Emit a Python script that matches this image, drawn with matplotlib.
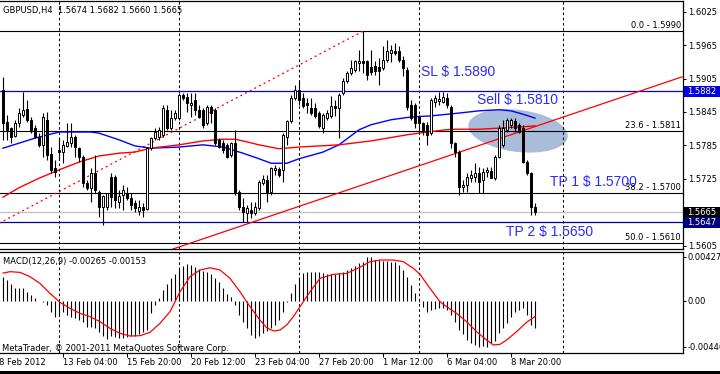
import matplotlib
matplotlib.use("Agg")
import matplotlib.pyplot as plt
from matplotlib.patches import Rectangle, Ellipse
from matplotlib.transforms import Affine2D, blended_transform_factory as blend

# GBPUSD H4 candles, bar 0 = first bar visible on the left
opens = [
    1.5884, 1.5827, 1.5816, 1.5802, 1.5825, 1.5840, 1.5850, 1.5831, 1.5816, 1.5800,
    1.5786, 1.5831, 1.5770, 1.5744, 1.5777, 1.5773, 1.5784, 1.5789, 1.5800, 1.5780,
    1.5764, 1.5717, 1.5709, 1.5735, 1.5701, 1.5674, 1.5674, 1.5728, 1.5728, 1.5683,
    1.5696, 1.5700, 1.5690, 1.5682, 1.5667, 1.5674, 1.5671, 1.5780, 1.5798, 1.5800,
    1.5804, 1.5849, 1.5816, 1.5834, 1.5834, 1.5875, 1.5872, 1.5858, 1.5866, 1.5849,
    1.5849, 1.5825, 1.5854, 1.5849, 1.5795, 1.5789, 1.5786, 1.5768, 1.5789, 1.5701,
    1.5674, 1.5664, 1.5669, 1.5664, 1.5673, 1.5717, 1.5723, 1.5701, 1.5741, 1.5743,
    1.5741, 1.5800, 1.5829, 1.5870, 1.5884, 1.5870, 1.5861, 1.5852, 1.5852, 1.5843,
    1.5816, 1.5834, 1.5838, 1.5856, 1.5852, 1.5879, 1.5901, 1.5915, 1.5920, 1.5933,
    1.5937, 1.5937, 1.5926, 1.5928, 1.5926, 1.5924, 1.5938, 1.5951, 1.5954, 1.5954,
    1.5938, 1.5920, 1.5858, 1.5858, 1.5836, 1.5825, 1.5822, 1.5807, 1.5863, 1.5865,
    1.5863, 1.5870, 1.5854, 1.5789, 1.5773, 1.5710, 1.5714, 1.5726, 1.5728, 1.5735,
    1.5723, 1.5737, 1.5739, 1.5726, 1.5764, 1.5786, 1.5813, 1.5822, 1.5829, 1.5822,
    1.5816, 1.5755, 1.5735, 1.5674,
]
highs = [
    1.5908, 1.5840, 1.5818, 1.5831, 1.5852, 1.5881, 1.5866, 1.5836, 1.5822, 1.5807,
    1.5843, 1.5845, 1.5782, 1.5759, 1.5798, 1.5795, 1.5825, 1.5825, 1.5804, 1.5782,
    1.5768, 1.5723, 1.5744, 1.5768, 1.5705, 1.5696, 1.5700, 1.5735, 1.5732, 1.5705,
    1.5714, 1.5710, 1.5700, 1.5687, 1.5687, 1.5682, 1.5782, 1.5800, 1.5816, 1.5818,
    1.5858, 1.5858, 1.5849, 1.5849, 1.5879, 1.5879, 1.5879, 1.5879, 1.5879, 1.5858,
    1.5852, 1.5858, 1.5858, 1.5852, 1.5798, 1.5795, 1.5789, 1.5791, 1.5813, 1.5705,
    1.5690, 1.5678, 1.5683, 1.5683, 1.5723, 1.5732, 1.5732, 1.5746, 1.5750, 1.5746,
    1.5807, 1.5831, 1.5875, 1.5893, 1.5902, 1.5879, 1.5870, 1.5870, 1.5861, 1.5847,
    1.5843, 1.5849, 1.5874, 1.5866, 1.5879, 1.5906, 1.5919, 1.5938, 1.5938, 1.5956,
    1.5990, 1.5938, 1.5956, 1.5937, 1.5942, 1.5963, 1.5974, 1.5965, 1.5969, 1.5963,
    1.5945, 1.5926, 1.5866, 1.5861, 1.5840, 1.5827, 1.5827, 1.5870, 1.5875, 1.5881,
    1.5881, 1.5879, 1.5858, 1.5791, 1.5777, 1.5723, 1.5735, 1.5741, 1.5753, 1.5746,
    1.5744, 1.5746, 1.5746, 1.5768, 1.5822, 1.5831, 1.5834, 1.5834, 1.5834, 1.5825,
    1.5822, 1.5759, 1.5737, 1.5682,
]
lows = [
    1.5795, 1.5795, 1.5789, 1.5800, 1.5818, 1.5836, 1.5827, 1.5807, 1.5798, 1.5782,
    1.5764, 1.5759, 1.5735, 1.5728, 1.5759, 1.5753, 1.5782, 1.5782, 1.5764, 1.5755,
    1.5710, 1.5705, 1.5683, 1.5700, 1.5656, 1.5642, 1.5669, 1.5674, 1.5673, 1.5673,
    1.5669, 1.5687, 1.5669, 1.5665, 1.5660, 1.5656, 1.5669, 1.5777, 1.5795, 1.5795,
    1.5800, 1.5813, 1.5813, 1.5831, 1.5831, 1.5866, 1.5845, 1.5836, 1.5840, 1.5834,
    1.5816, 1.5822, 1.5825, 1.5786, 1.5780, 1.5771, 1.5762, 1.5764, 1.5696, 1.5669,
    1.5648, 1.5648, 1.5655, 1.5660, 1.5669, 1.5714, 1.5683, 1.5696, 1.5732, 1.5728,
    1.5719, 1.5786, 1.5825, 1.5866, 1.5858, 1.5852, 1.5843, 1.5840, 1.5834, 1.5816,
    1.5807, 1.5831, 1.5834, 1.5838, 1.5798, 1.5875, 1.5897, 1.5911, 1.5917, 1.5919,
    1.5915, 1.5902, 1.5911, 1.5911, 1.5893, 1.5920, 1.5935, 1.5935, 1.5947, 1.5935,
    1.5910, 1.5849, 1.5831, 1.5816, 1.5809, 1.5804, 1.5786, 1.5804, 1.5854, 1.5858,
    1.5861, 1.5852, 1.5780, 1.5764, 1.5696, 1.5701, 1.5701, 1.5719, 1.5719, 1.5700,
    1.5700, 1.5728, 1.5726, 1.5723, 1.5762, 1.5782, 1.5809, 1.5816, 1.5809, 1.5807,
    1.5753, 1.5732, 1.5660, 1.5660,
]
closes = [
    1.5825, 1.5813, 1.5800, 1.5825, 1.5843, 1.5849, 1.5831, 1.5813, 1.5800, 1.5786,
    1.5836, 1.5768, 1.5741, 1.5737, 1.5773, 1.5786, 1.5791, 1.5800, 1.5782, 1.5764,
    1.5717, 1.5709, 1.5735, 1.5705, 1.5674, 1.5694, 1.5700, 1.5692, 1.5687, 1.5694,
    1.5705, 1.5690, 1.5678, 1.5673, 1.5674, 1.5669, 1.5780, 1.5798, 1.5809, 1.5813,
    1.5852, 1.5816, 1.5834, 1.5843, 1.5875, 1.5870, 1.5861, 1.5861, 1.5849, 1.5836,
    1.5822, 1.5854, 1.5843, 1.5789, 1.5782, 1.5777, 1.5764, 1.5789, 1.5701, 1.5674,
    1.5665, 1.5673, 1.5664, 1.5674, 1.5719, 1.5725, 1.5701, 1.5744, 1.5744, 1.5732,
    1.5804, 1.5829, 1.5870, 1.5884, 1.5866, 1.5856, 1.5858, 1.5843, 1.5838, 1.5820,
    1.5840, 1.5843, 1.5856, 1.5852, 1.5875, 1.5901, 1.5915, 1.5924, 1.5937, 1.5937,
    1.5933, 1.5911, 1.5917, 1.5919, 1.5919, 1.5938, 1.5954, 1.5956, 1.5951, 1.5938,
    1.5924, 1.5854, 1.5834, 1.5825, 1.5825, 1.5813, 1.5804, 1.5866, 1.5870, 1.5868,
    1.5872, 1.5858, 1.5789, 1.5773, 1.5710, 1.5714, 1.5728, 1.5732, 1.5735, 1.5719,
    1.5737, 1.5741, 1.5726, 1.5764, 1.5816, 1.5816, 1.5831, 1.5831, 1.5816, 1.5809,
    1.5755, 1.5735, 1.5674, 1.5665,
]

# moving averages, read at a number of bars
ma_blue_bar = [0, 8, 14, 22, 24, 29, 33, 37, 44, 50, 55, 60, 64, 67, 71, 74, 80, 84,
               89, 92, 97, 102, 107, 114, 119, 124, 127, 130, 133]
ma_blue = [1.5780, 1.5798, 1.5809, 1.5809, 1.5807, 1.5795, 1.5784, 1.5780, 1.5782,
           1.5786, 1.5782, 1.5771, 1.5761, 1.5753, 1.5753, 1.5761, 1.5773, 1.5786,
           1.5813, 1.5822, 1.5831, 1.5836, 1.5838, 1.5843, 1.5847, 1.5849, 1.5847,
           1.5841, 1.5834]
ma_red_bar = [0, 4, 9, 14, 19, 24, 29, 33, 37, 44, 50, 55, 58, 60, 64, 69, 74, 84,
              92, 101, 106, 112, 119, 124, 129, 133]
ma_red = [1.5692, 1.5709, 1.5726, 1.5741, 1.5755, 1.5766, 1.5771, 1.5773, 1.5780,
          1.5786, 1.5793, 1.5796, 1.5796, 1.5793, 1.5786, 1.5779, 1.5782, 1.5786,
          1.5793, 1.5804, 1.5809, 1.5814, 1.5814, 1.5816, 1.5818, 1.5820]

# MACD(12,26,9)
macd_hist = [
    0.00227, 0.00201, 0.00159, 0.00126, 0.00126, 0.00120, 0.00087, 0.00055, 0.00023, -0.00003,
    -0.00010, -0.00042, -0.00107, -0.00155, -0.00146, -0.00107, -0.00139, -0.00155, -0.00172, -0.00188,
    -0.00210, -0.00252, -0.00252, -0.00269, -0.00307, -0.00340, -0.00372, -0.00340, -0.00349, -0.00366,
    -0.00359, -0.00349, -0.00340, -0.00340, -0.00327, -0.00307, -0.00285, -0.00123, -0.00042, 0.00023,
    0.00104, 0.00159, 0.00217, 0.00256, 0.00314, 0.00340, 0.00353, 0.00346, 0.00330, 0.00307,
    0.00288, 0.00275, 0.00256, 0.00217, 0.00178, 0.00120, 0.00061, 0.00039, -0.00042, -0.00139,
    -0.00204, -0.00269, -0.00333, -0.00359, -0.00340, -0.00317, -0.00294, -0.00269, -0.00236, -0.00188,
    -0.00107, -0.00010, 0.00071, 0.00159, 0.00233, 0.00265, 0.00275, 0.00282, 0.00282, 0.00275,
    0.00265, 0.00256, 0.00256, 0.00262, 0.00269, 0.00282, 0.00298, 0.00320, 0.00340, 0.00362,
    0.00379, 0.00420, 0.00427, 0.00395, 0.00395, 0.00385, 0.00385, 0.00379, 0.00372, 0.00346,
    0.00298, 0.00233, 0.00152, 0.00071, -0.00010, -0.00058, -0.00107, -0.00091, -0.00081, -0.00074,
    -0.00068, -0.00091, -0.00139, -0.00204, -0.00285, -0.00327, -0.00382, -0.00414, -0.00430, -0.00446,
    -0.00437, -0.00446, -0.00414, -0.00392, -0.00317, -0.00269, -0.00220, -0.00155, -0.00107, -0.00091,
    -0.00074, -0.00139, -0.00236, -0.00265,
]
signal_bar = [0, 1.75, 4.25, 6.75, 9.25, 11.75, 14.25, 16.75, 19.25, 21.75, 24.25, 26.75,
              29.25, 31.75, 34.25, 36.75, 39.25, 41.75, 44.25, 46.75, 49.25, 51.75, 54.25,
              56.75, 59.25, 61.75, 64.25, 65.9, 67.6, 69.25, 70.9, 72.6, 74.25, 76.75,
              79.25, 82.6, 85.9, 89.25, 91.75, 94.25, 97.6, 100.1, 102.6, 104.25, 106.75,
              109.25, 110.9, 113.4, 115.9, 118.4, 120.9, 122.6, 124.25, 125.9, 128.4,
              130.9, 133]
signal = [0.00268, 0.00282, 0.00275, 0.00233, 0.00168, 0.00071, -0.00016, -0.00074,
          -0.00123, -0.00155, -0.00204, -0.00269, -0.00317, -0.00343, -0.00340, -0.00307,
          -0.00220, -0.00107, 0.00087, 0.00233, 0.00298, 0.00320, 0.00298, 0.00217,
          0.00087, -0.00058, -0.00188, -0.00262, -0.00294, -0.00285, -0.00236, -0.00155,
          -0.00058, 0.00087, 0.00217, 0.00256, 0.00265, 0.00325, 0.00379, 0.00395,
          0.00395, 0.00379, 0.00314, 0.00256, 0.00120, -0.00010, -0.00058, -0.00123,
          -0.00204, -0.00301, -0.00382, -0.00430, -0.00424, -0.00382, -0.00301, -0.00210,
          -0.00153]

# drawn objects
fib_levels = ["0.0", "23.6", "38.2", "50.0"]
fib_prices = [1.5990, 1.5811, 1.5700, 1.5610]
fib_anchor_bars = [-110, 90]
fib_anchor_prices = [1.5232, 1.5990]
trend_bars = [42.5, 169.75]
trend_prices = [1.5599, 1.5908]
sl_price = 1.5882
tp2_price = 1.5647
bid_price = 1.5665
notes = ["SL $ 1.5890", "Sell $ 1.5810", "TP 1 $ 1.5700", "TP 2 $ 1.5650"]
note_bars = [104.5, 118.5, 136.75, 125.75]
note_prices = [1.5916, 1.5866, 1.5720, 1.5630]

price_ticks = [1.6025, 1.5965, 1.5905, 1.5845, 1.5785, 1.5725, 1.5665, 1.5605]
macd_ticks = [0.00427, 0.0, -0.00446]
macd_tick_labels = ["0.00427", "0.00", "-0.00446"]
date_bars = [-1, 15, 31, 47, 63, 79, 95, 111, 127]
date_labels = ["8 Feb 2012", "13 Feb 04:00", "15 Feb 20:00", "20 Feb 12:00",
               "23 Feb 04:00", "27 Feb 20:00", "1 Mar 12:00", "6 Mar 04:00", "8 Mar 20:00"]
grid_bars = [14, 44, 74, 104, 140]

W, H = 720, 374
FS = 6.0
NOTE_FONT = ["Liberation Sans", "DejaVu Sans"]
NOTE_BLUE = "#2b2bff"

plt.rcParams["font.family"] = ["DejaVu Sans"]
fig = plt.figure(figsize=(W / 100, H / 100), dpi=100)


def px_axes(left, top, right, bottom):
    return fig.add_axes([left / W, 1 - bottom / H, (right - left) / W, (bottom - top) / H])


ax = px_axes(0, 1, 683, 249)
mx = px_axes(0, 252, 683, 353)

for a in (ax, mx):
    a.set_xlim(-0.75, 170)
    a.spines["left"].set_visible(False)
    for s in ("top", "right", "bottom"):
        a.spines[s].set_linewidth(0.9)
    a.yaxis.tick_right()
    a.tick_params(axis="y", direction="out", length=2.5, width=0.7, pad=1.0, labelsize=FS)
    for b in grid_bars:
        a.axvline(b, color="black", lw=0.75, ls=(0, (2.5, 2.5)), zorder=1)

ax.set_ylim(1.55990, 1.60442)
mx.set_ylim(-0.00508, 0.00473)
ax.set_xticks([])
ax.set_yticks(price_ticks)
ax.set_yticklabels([f"{p:.4f}" for p in price_ticks])
mx.set_yticks(macd_ticks)
mx.set_yticklabels(macd_tick_labels)
mx.set_xticks([b for b in date_bars if b >= 0])
mx.tick_params(axis="x", direction="out", length=3, width=0.7, labelbottom=False)

# highlighted sell zone
zone = Ellipse((0, 0), 100, 42, angle=-7, facecolor="#a9bcd9", edgecolor="none", zorder=0.5)
zone.set_transform(Affine2D().scale(0.25, 1 / 5571).translate(128.75, 1.5811) + ax.transData)
ax.add_patch(zone)

# fibonacci levels and the retracement anchor line
for lvl, p in zip(fib_levels, fib_prices):
    ax.axhline(p, color="black", lw=0.8, zorder=1)
    ax.annotate(f"{lvl} - {p:.4f}", (169.5, p), xytext=(0, 2.2), textcoords="offset points",
                ha="right", va="baseline", fontsize=FS, zorder=6)
ax.plot(fib_anchor_bars, fib_anchor_prices, color="red", lw=0.9, ls=(0, (1.6, 2.6)), zorder=2)

ax.axhline(sl_price, color="#0000e0", lw=0.9, zorder=1)
ax.axhline(tp2_price, color="#000090", lw=0.9, zorder=1)
ax.axhline(bid_price, color="#c0c0c0", lw=0.9, zorder=1)

ax.plot(trend_bars, trend_prices, color="red", lw=0.9, zorder=2)
ax.plot(ma_blue_bar, ma_blue, color="#0000ff", lw=1.0, zorder=2)
ax.plot(ma_red_bar, ma_red, color="#ff0000", lw=1.0, zorder=2)

# candles
for i, (o, h, l, c) in enumerate(zip(opens, highs, lows, closes)):
    ax.vlines(i, l, h, color="black", lw=0.8, zorder=4)
    ax.add_patch(Rectangle((i - 0.25, min(o, c)), 0.5, max(abs(c - o), 0.00003),
                           facecolor="white" if c >= o else "black",
                           edgecolor="black", lw=0.7, zorder=5))

for txt, b, p in zip(notes, note_bars, note_prices):
    ax.text(b, p, txt, color=NOTE_BLUE, family=NOTE_FONT, fontsize=10,
            ha="left", va="center", zorder=7)

# price boxes on the scale
side = blend(ax.transAxes, ax.transData)
for p, bg in [(sl_price, "#0000e0"), (bid_price, "black"), (tp2_price, "#000080")]:
    ax.add_patch(Rectangle((1.0015, p - 0.00095), 0.06, 0.0019, transform=side,
                           facecolor=bg, edgecolor="none", clip_on=False, zorder=8))
    ax.text(1.006, p, f"{p:.4f}", transform=side, color="white", fontsize=FS,
            ha="left", va="center", clip_on=False, zorder=9)

# MACD panel
mx.vlines(range(len(macd_hist)), 0, macd_hist, color="black", lw=0.8, zorder=3)
mx.plot(signal_bar, signal, color="red", lw=0.9, zorder=4)

below = blend(mx.transData, mx.transAxes)
for b, lbl in zip(date_bars, date_labels):
    mx.text(b, -0.09, lbl, transform=below, ha="left", va="center", fontsize=FS, clip_on=False)

fig.text(3 / W, 1 - 10.7 / H, "GBPUSD,H4  1.5674 1.5682 1.5660 1.5665", fontsize=FS, va="center")
fig.text(3 / W, 1 - 261.7 / H, "MACD(12,26,9) -0.00265 -0.00153", fontsize=FS, va="center")
fig.text(2 / W, 1 - 348.5 / H, "MetaTrader, \u00a9 2001-2011 MetaQuotes Software Corp.",
         fontsize=FS, va="center")

fig.add_artist(Rectangle((0, 0), 1, 3.5 / H, transform=fig.transFigure,
                         facecolor="black", edgecolor="none"))

fig.savefig("out.png", dpi=100)
